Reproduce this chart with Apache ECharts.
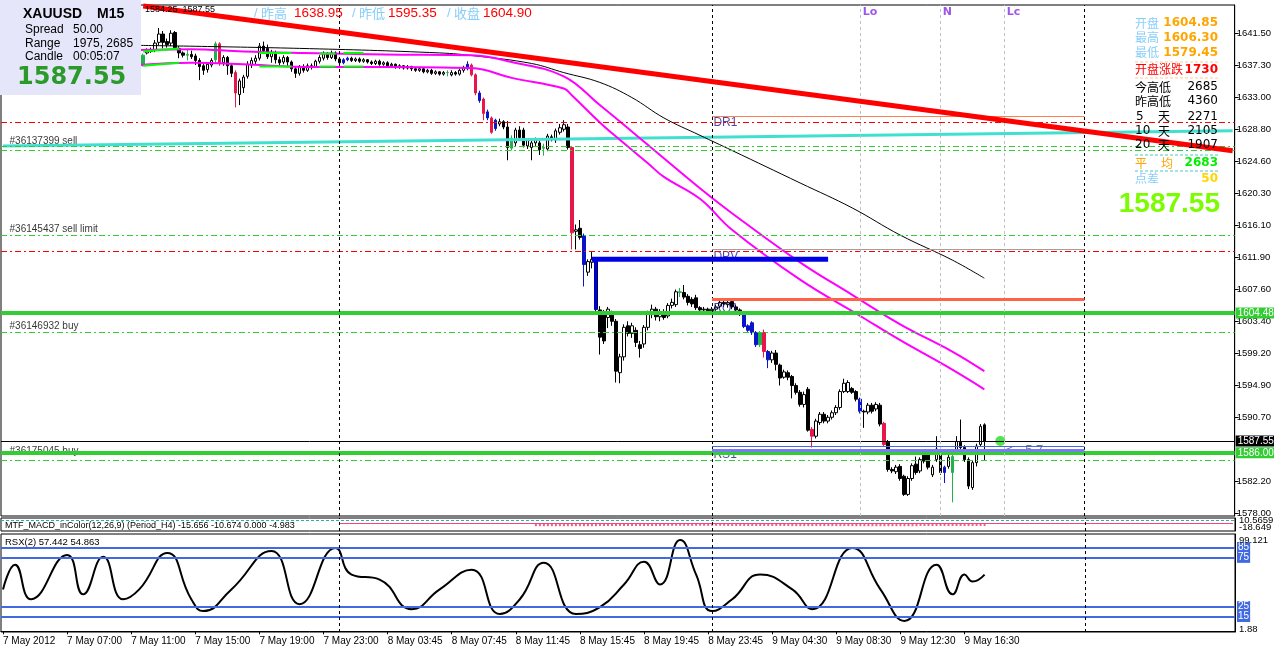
<!DOCTYPE html>
<html><head><meta charset="utf-8">
<script src="https://cdn.jsdelivr.net/npm/echarts@6/dist/echarts.min.js"></script>
<style>html,body{margin:0;padding:0;background:#fff}#c{width:1274px;height:650px}</style>
</head><body><div id="c"></div>
<script>
// ---------------- DATA ----------------
const timeLabels = ['7 May 2012','7 May 07:00','7 May 11:00','7 May 15:00','7 May 19:00','7 May 23:00',
  '8 May 03:45','8 May 07:45','8 May 11:45','8 May 15:45','8 May 19:45','8 May 23:45',
  '9 May 04:30','9 May 08:30','9 May 12:30','9 May 16:30'];
// [open, close, low, high] per M15 bar
const ohlc = [
[1637.8,1638.4,1637.5,1638.7],[1638.4,1638.0,1637.7,1638.6],[1638.0,1638.6,1637.8,1638.9],[1638.6,1639.1,1638.3,1639.4],
[1639.1,1638.7,1638.4,1639.3],[1638.7,1639.3,1638.5,1639.6],[1639.3,1639.8,1639.0,1640.2],[1639.8,1639.4,1639.1,1640.0],
[1639.4,1638.8,1638.5,1639.6],[1638.8,1638.3,1638.0,1639.0],[1638.3,1638.9,1638.1,1639.2],[1638.9,1639.6,1638.7,1639.9],
[1639.6,1640.2,1639.3,1640.5],[1640.2,1639.7,1639.4,1640.4],[1639.7,1639.1,1638.8,1639.9],[1639.1,1638.6,1638.2,1639.3],
[1638.6,1638.1,1637.8,1638.8],[1638.1,1638.5,1637.7,1638.7],[1638.5,1638.0,1637.6,1638.8],[1638.0,1637.5,1637.1,1638.2],
[1637.5,1637.9,1637.2,1638.1],[1637.9,1638.6,1637.7,1638.9],[1638.6,1639.2,1638.4,1639.5],[1639.2,1639.7,1638.9,1640.0],
[1639.7,1639.3,1639.0,1640.1],[1639.3,1638.8,1638.5,1639.5],[1638.8,1638.2,1637.9,1639.0],[1638.2,1637.7,1637.4,1638.4],
[1637.7,1637.2,1636.9,1637.9],[1637.2,1637.8,1636.9,1638.0],[1637.8,1637.4,1637.1,1638.0],[1637.4,1637.9,1637.2,1638.2],
[1637.9,1638.3,1637.6,1638.6],[1638.3,1637.9,1637.6,1638.6],[1637.9,1638.2,1637.6,1638.5],
[1637.3,1638.6,1637.1,1638.8],[1638.9,1639.2,1638.7,1639.5],[1639.1,1639.3,1638.9,1639.6],[1639.3,1640.2,1639.0,1640.6],
[1640.3,1641.4,1639.9,1642.2],[1641.4,1640.3,1639.5,1641.8],[1640.4,1640.0,1639.6,1640.8],[1640.2,1641.5,1639.8,1641.9],
[1641.6,1639.6,1639.4,1641.8],[1639.5,1638.9,1638.2,1639.8],[1638.9,1638.6,1638.3,1639.1],[1638.6,1638.7,1637.9,1639.3],
[1638.7,1638.4,1638.1,1639.2],[1638.5,1637.9,1637.3,1638.8],[1637.9,1637.1,1635.3,1638.2],[1637.2,1636.6,1636.0,1637.5],
[1636.7,1637.4,1636.3,1637.7],[1637.3,1637.9,1637.0,1638.2],[1638.0,1640.1,1637.6,1640.4],[1640.1,1637.5,1637.2,1640.3],
[1637.6,1638.3,1637.2,1638.6],[1638.3,1637.2,1636.0,1638.5],[1637.2,1636.2,1635.7,1637.5],[1636.3,1633.6,1631.7,1636.6],
[1633.4,1635.2,1632.0,1635.5],[1634.3,1635.7,1633.6,1636.0],[1635.8,1637.4,1635.5,1637.8],[1637.3,1637.9,1636.9,1638.3],
[1637.8,1638.2,1637.3,1638.6],[1638.2,1639.8,1637.9,1640.2],[1639.8,1639.2,1638.8,1640.4],[1639.5,1638.4,1638.1,1640.0],
[1638.4,1638.9,1637.6,1639.3],[1638.9,1638.0,1637.5,1639.2],[1638.0,1637.6,1637.2,1638.4],[1637.7,1638.3,1637.4,1638.6],
[1638.3,1637.7,1637.1,1638.5],[1637.7,1636.8,1636.4,1637.9],[1636.8,1636.2,1635.6,1637.1],[1636.2,1637.1,1635.9,1637.3],
[1637.1,1636.6,1636.3,1637.4],[1636.6,1637.2,1636.4,1637.5],[1637.2,1637.0,1636.7,1637.5],[1637.1,1637.8,1636.9,1638.0],
[1637.8,1638.3,1637.5,1638.6],[1638.2,1638.8,1637.9,1639.1],[1638.8,1638.3,1638.0,1639.0],[1638.3,1638.9,1638.1,1639.2],
[1638.9,1638.1,1637.8,1639.1],[1638.1,1637.6,1637.3,1638.3],[1637.6,1638.0,1637.4,1638.2],[1638.0,1638.2,1637.8,1638.4],
[1638.2,1637.9,1637.7,1638.4],[1637.9,1638.1,1637.7,1638.3],[1638.1,1637.8,1637.6,1638.3],[1637.8,1638.0,1637.6,1638.2],
[1638.0,1637.7,1637.5,1638.1],[1637.7,1637.5,1637.3,1637.9],[1637.5,1637.8,1637.3,1638.0],[1637.8,1637.4,1637.2,1638.0],
[1637.4,1637.6,1637.2,1637.8],[1637.6,1637.2,1637.0,1637.8],[1637.2,1637.4,1637.0,1637.6],[1637.4,1637.0,1636.8,1637.5],
[1637.0,1637.2,1636.8,1637.4],[1637.2,1636.9,1636.7,1637.3],[1636.9,1637.1,1636.7,1637.3],[1637.1,1636.8,1636.5,1637.2],
[1636.8,1636.6,1636.4,1637.0],[1636.6,1636.8,1636.4,1637.0],[1636.8,1636.4,1636.2,1636.9],[1636.4,1636.6,1636.2,1636.8],
[1636.6,1636.2,1636.0,1636.8],[1636.2,1636.4,1636.0,1636.6],[1636.4,1636.1,1635.9,1636.5],[1636.1,1636.3,1635.9,1636.5],
[1636.3,1636.3,1635.8,1636.6],[1636.0,1636.3,1635.8,1636.6],[1636.3,1636.1,1635.9,1636.5],[1636.1,1636.6,1635.9,1636.8],
[1636.6,1636.9,1636.3,1637.2],[1636.8,1637.4,1636.6,1637.8],[1637.3,1636.0,1635.8,1637.5],[1636.0,1633.6,1633.3,1636.2],
[1633.6,1632.6,1632.3,1633.9],[1632.8,1630.9,1630.0,1633.0],[1631.1,1630.3,1630.0,1631.4],[1630.3,1628.4,1628.2,1630.5],
[1630.0,1628.9,1628.6,1630.2],[1629.5,1629.8,1629.2,1630.2],[1629.8,1629.1,1628.8,1630.0],[1629.1,1626.4,1624.7,1629.9],
[1626.3,1627.6,1626.0,1628.0],[1627.0,1628.7,1626.6,1629.0],[1628.7,1627.7,1627.4,1629.2],[1628.7,1626.7,1626.4,1629.0],
[1626.6,1627.4,1626.2,1627.6],[1626.4,1627.0,1624.7,1627.3],[1627.0,1627.4,1626.6,1627.7],[1627.0,1626.1,1625.4,1627.3],
[1626.3,1626.4,1625.3,1626.9],[1626.2,1627.9,1625.9,1628.2],[1627.8,1627.5,1627.2,1628.1],[1627.4,1628.6,1627.0,1628.9],
[1628.4,1629.0,1628.1,1629.5],[1628.8,1629.4,1628.5,1630.0],[1629.1,1626.4,1626.1,1629.5],[1626.4,1615.1,1612.9,1626.6],
[1615.3,1615.5,1612.9,1616.2],[1615.7,1614.5,1614.2,1616.8],[1614.7,1610.9,1608.0,1615.0],[1609.9,1611.3,1609.4,1611.6],
[1611.2,1611.6,1610.4,1612.6],[1611.4,1605.0,1604.6,1611.8],[1604.9,1601.3,1599.0,1605.4],[1604.4,1600.8,1600.4,1604.9],
[1603.9,1605.0,1602.5,1605.3],[1604.3,1603.4,1602.8,1604.8],[1603.4,1596.8,1595.3,1603.7],[1596.6,1598.7,1595.2,1599.1],
[1598.7,1602.6,1598.2,1603.0],[1602.8,1601.8,1601.4,1603.4],[1601.8,1602.8,1601.2,1603.2],[1602.2,1600.6,1600.0,1602.6],
[1600.3,1599.8,1598.6,1600.8],[1600.4,1602.6,1599.9,1602.9],[1602.6,1604.5,1602.2,1604.8],[1604.3,1605.0,1603.8,1605.6],
[1605.0,1604.0,1603.5,1605.3],[1604.0,1604.6,1603.4,1605.0],[1604.6,1603.9,1603.6,1605.0],[1604.1,1605.5,1603.8,1605.8],
[1605.5,1605.9,1605.1,1606.4],[1605.6,1607.3,1605.3,1607.6],[1607.2,1607.3,1606.6,1607.8],[1607.2,1606.6,1606.3,1608.2],
[1606.7,1605.9,1605.5,1607.0],[1606.3,1605.7,1605.3,1606.6],[1606.5,1605.2,1604.9,1606.9],[1605.2,1604.9,1604.6,1605.4],
[1604.9,1605.0,1604.6,1605.3],[1605.0,1604.8,1604.5,1605.2],[1604.8,1605.0,1604.5,1605.3],[1605.0,1605.3,1604.8,1605.6],
[1605.4,1605.9,1605.1,1606.3],[1605.9,1605.7,1605.3,1606.2],[1605.6,1605.9,1605.2,1606.3],[1606.0,1605.3,1605.0,1606.3],
[1605.3,1604.9,1604.6,1605.6],[1604.9,1604.5,1604.1,1605.1],[1604.3,1602.7,1602.5,1604.5],[1602.8,1602.2,1602.0,1603.0],
[1603.2,1601.9,1601.6,1603.4],[1601.9,1600.3,1600.0,1602.1],[1600.3,1601.9,1600.0,1602.1],[1601.9,1599.4,1598.6,1602.3],
[1599.4,1598.3,1597.2,1599.6],[1598.3,1599.2,1597.9,1599.5],[1599.2,1597.7,1596.9,1599.6],[1597.6,1595.9,1594.9,1597.8],
[1596.0,1596.7,1595.8,1597.0],[1596.6,1596.0,1595.6,1596.9],[1596.1,1594.9,1593.2,1596.3],[1594.9,1594.0,1593.7,1595.2],
[1594.0,1592.4,1592.1,1594.3],[1592.4,1593.7,1592.0,1594.1],[1594.4,1589.0,1588.8,1594.7],[1589.1,1588.2,1586.7,1589.4],
[1588.2,1590.2,1587.9,1590.5],[1590.0,1591.1,1589.7,1591.4],[1591.1,1590.2,1589.9,1591.4],[1590.2,1590.7,1589.9,1591.0],
[1590.7,1591.3,1590.4,1591.6],[1591.3,1592.0,1591.0,1592.3],[1592.0,1594.1,1591.7,1594.4],[1594.1,1595.2,1593.9,1595.8],
[1594.1,1595.3,1593.9,1595.6],[1594.5,1594.0,1593.8,1594.7],[1594.1,1593.1,1592.8,1594.3],[1593.1,1591.5,1591.2,1593.3],
[1591.5,1591.4,1589.3,1591.7],[1591.4,1592.3,1591.1,1592.6],[1592.3,1591.5,1591.2,1592.6],[1591.8,1592.4,1591.5,1592.7],
[1592.3,1589.8,1589.5,1592.6],[1589.9,1587.1,1586.8,1590.1],[1587.4,1583.8,1583.5,1587.7],[1583.8,1583.6,1583.3,1584.1],
[1583.5,1584.1,1583.2,1584.4],[1584.2,1582.6,1582.3,1584.5],[1582.9,1580.5,1580.3,1583.1],[1580.5,1582.6,1580.3,1582.9],
[1582.6,1584.3,1582.3,1584.6],[1584.5,1583.4,1583.1,1585.5],[1583.6,1585.1,1583.3,1585.4],[1586.2,1584.9,1584.6,1586.5],
[1585.8,1584.1,1583.8,1586.1],[1583.1,1584.1,1582.8,1584.4],[1585.1,1586.5,1584.8,1588.2],[1586.1,1583.4,1583.1,1586.4],
[1584.1,1583.4,1582.0,1584.3],[1584.2,1585.4,1583.9,1585.7],[1583.4,1585.5,1579.45,1585.8],[1586.1,1587.5,1585.7,1588.2],
[1587.4,1586.7,1586.4,1590.4],[1586.7,1585.1,1584.8,1587.0],[1585.1,1581.6,1581.2,1585.4],[1581.4,1584.7,1581.1,1585.0],
[1584.7,1586.9,1584.2,1587.2],[1587.1,1589.5,1586.8,1589.8],[1589.7,1587.55,1585.0,1589.9]
];
const redBars = [54,58,117,118,120,122,142,190,202,220];
const blueBars = [85,86,116,119,121,123,145,185,186,187,188,191,214,235];
const greenBars = [35,46,53,111,127,135,169,189,237];

const mainTicks = [1578.00,1582.20,1590.70,1594.90,1599.20,1603.40,1607.60,1611.90,1616.10,1620.30,1624.60,1628.80,1633.00,1637.30,1641.50];
const upperEnv = [[34,1639.3],[47,1639.4],[60,1639.1],[75,1638.9],[95,1638.7],[117,1638.6],[127,1637.7],[140,1635.8],[149,1632.0],[162,1626.3],[174,1621.0],[182,1617.7],[199,1611.2],[212,1606.9],[224,1603.0],[237,1599.4],[245,1596.8]];
const lowerEnv = [[34,1637.3],[47,1637.6],[60,1637.4],[75,1637.05],[95,1637.05],[117,1636.9],[127,1635.6],[140,1634.2],[142,1633.3],[149,1629.7],[154,1627.4],[161,1624.3],[165,1622.5],[174,1619.6],[182,1615.5],[199,1608.9],[214,1604.1],[224,1600.9],[237,1597.0],[245,1594.4]];
const greenUpper = [[[35,1639.1],[44,1639.5]],[[64,1638.9],[72,1638.9]],[[79,1638.8],[83,1638.8]],[[85,1638.9],[90,1638.9]]];
const greenLower = [[[35,1637.2],[44,1637.6]],[[64,1637.1],[72,1637.1]],[[79,1637.1],[83,1637.1]],[[85,1637.1],[90,1637.1]]];
const slowMA = [[34,1639.9],[74,1639.5],[109,1638.9],[118,1638.5],[132,1637.5],[140,1636.3],[149,1635.0],[157,1633.0],[165,1630.3],[174,1628.0],[182,1626.0],[199,1621.7],[212,1618.4],[224,1614.8],[237,1611.5],[245,1609.1]];
const cyanLine = [[0,1626.6],[307,1628.6]];
const trendLine = [[35,1645.1],[307,1625.97]];
const blueHoriz = [[147,1611.6],[206,1611.6]];
const blueVert = [[148,1611.6],[148,1604.9]];
const redDashLevels = [1629.73,1612.66];
const greenDashLevels = [1626.50,1625.97,1614.78,1601.94,1585.05];
const greenSolidLevels = [1604.48,1586.00];
const bidPrice = 1587.55;
const pivotFrom = 177, pivotTo = 270;
const pivotLevels = {DR1:1630.56, DPV:1612.9, R1:1606.30, RS1a:1586.9, RS1b:1586.4};
const pivotText = [['DR1',1629.7],['DPV',1612.0],['RQ1',1605.1],['RS1',1585.7]];
const orderText = [['#36137399 sell',1627.2],['#36145437 sell limit',1615.55],['#36146932 buy',1602.7],['#36175045 buy',1586.2]];
const blackSeparators = [84,177,270];
const graySeparators = [[214,'Lo'],[234,'N'],[250,'Lc']];
const macdHistBlocks = [[133,148,-3.2],[149,164,-3.0],[165,180,-2.8],[181,196,-3.0],[197,212,-3.1],[213,228,-3.2],[229,245,-3.0]];
const rsxPoints = [[0,42.5],[3,67.5],[7,32.5],[16,77.5],[20,37.5],[25,75.5],[30,32.5],[34,42.5],[41,79.5],[47,32.5],[50,20.5],[57,42.5],[67,81.5],[74,27.5],[83,84.5],[87,57.5],[94,52.5],[102,22.5],[109,42.5],[117,62.5],[124,17.5],[129,32.5],[135,69.5],[143,17.5],[149,24.5],[155,47.5],[160,70.5],[164,47.5],[169,92.5],[173,57.5],[177,20.5],[182,32.5],[189,57.5],[197,42.5],[202,22.5],[212,84.5],[219,42.5],[225,10.5],[233,67.5],[237,37.5],[240,57.5],[242,50.5],[245,57.5]];
const rsxLevels = [85,75,25,15];

// ---------------- CHART ----------------
const N = 308;
const cats = Array.from({length:N}, (_, i) => String(i));
const labelIdx = (i) => i % 16 === 0 && i / 16 < timeLabels.length;
const colorOf = {};
redBars.forEach(i => colorOf[i] = '#e8174a');
blueBars.forEach(i => colorOf[i] = '#0a14c8');
greenBars.forEach(i => colorOf[i] = '#22b14c');
const candleData = ohlc.map((d, i) => colorOf[i] ? {value: d, itemStyle: {color: colorOf[i], color0: colorOf[i], borderColor: colorOf[i], borderColor0: colorOf[i], borderColorDoji: colorOf[i]}} : d);
const macdHist = [];
macdHistBlocks.forEach(b => { for (let i = b[0]; i <= b[1]; i++) macdHist.push([i, b[2]]); });

const dashDot = [6,3,2,3];
const hMark = [];
redDashLevels.forEach(v => hMark.push({yAxis: v, lineStyle: {color: '#ff0000', type: dashDot, width: 1}, label: {show: false}}));
greenDashLevels.forEach(v => hMark.push({yAxis: v, lineStyle: {color: '#32cd32', type: dashDot, width: 1}, label: {show: false}}));
const tag = (bg) => ({show: true, position: 'end', distance: 1, formatter: p => p.value.toFixed(2), color: '#fff', backgroundColor: bg, padding: [1, 4, 0, 2], fontFamily: 'Liberation Sans', fontSize: 10});
hMark.push({yAxis: bidPrice, lineStyle: {color: '#000', type: 'solid', width: 1}, label: tag('#000')});
greenSolidLevels.forEach(v => hMark.push({yAxis: v, lineStyle: {color: '#32cd32', type: 'solid', width: 4}, label: tag('#32cd32')}));

const seg = (p, color, w) => [{coord: [pivotFrom, p], lineStyle: {color, width: w, type: 'solid'}}, {coord: [pivotTo, p]}];
const vMark = [];
blackSeparators.forEach(i => vMark.push({xAxis: i, lineStyle: {color: '#000', type: [3, 3], width: 1}}));
graySeparators.forEach(s => vMark.push({xAxis: s[0], lineStyle: {color: '#c0c0c0', type: [3, 3], width: 1}}));

const txt = (x, y, text, fill, font, align) => ({type: 'text', x, y, z: 101, silent: true,
  style: {text, fill, font, textAlign: align || 'left', textVerticalAlign: 'middle', align: align || 'left', verticalAlign: 'middle'}});
const dline = (x1, x2, y, color) => ({type: 'line', z: 101, silent: true, shape: {x1, y1: y, x2, y2: y}, style: {stroke: color, lineWidth: 1, lineDash: [3, 2]}});

const CJK = '"Noto Sans CJK SC"';
const graphics = [
  {type: 'rect', z: 100, silent: true, shape: {x: 0, y: 0, width: 141, height: 95}, style: {fill: '#e6e6fa'}},
  txt(23, 14, 'XAUUSD', '#000', 'bold 14px "Liberation Sans"'),
  txt(97, 14, 'M15', '#000', 'bold 14px "Liberation Sans"'),
  txt(25, 30, 'Spread', '#000', '12px "Liberation Sans"'),
  txt(73, 30, '50.00', '#000', '12px "Liberation Sans"'),
  txt(25, 43.5, 'Range', '#000', '12px "Liberation Sans"'),
  txt(73, 43.5, '1975, 2685', '#000', '12px "Liberation Sans"'),
  txt(25, 57, 'Candle', '#000', '12px "Liberation Sans"'),
  txt(73, 57, '00:05:07', '#000', '12px "Liberation Sans"'),
  txt(17, 78, '1587.55', '#2b9a2b', 'bold 24px "DejaVu Sans"'),
  txt(145, 10, '1584.25  1587.55', '#000', '9px "Liberation Sans"'),
  txt(254, 13, '/', '#87cefa', '13px "Liberation Sans"'),
  txt(261, 13, '昨高', '#87cefa', '13px ' + CJK),
  txt(294, 13, '1638.95', '#ff0000', '13.5px "Liberation Sans"'),
  txt(352, 13, '/', '#87cefa', '13px "Liberation Sans"'),
  txt(359, 13, '昨低', '#87cefa', '13px ' + CJK),
  txt(388, 13, '1595.35', '#ff0000', '13.5px "Liberation Sans"'),
  txt(447, 13, '/', '#87cefa', '13px "Liberation Sans"'),
  txt(454, 13, '收盘', '#87cefa', '13px ' + CJK),
  txt(483, 13, '1604.90', '#ff0000', '13.5px "Liberation Sans"'),
  // right info panel
  txt(1135, 23, '开盘', '#87cefa', '12px ' + CJK),
  txt(1218, 23, '1604.85', '#ffa500', 'bold 12px "DejaVu Sans"', 'right'),
  txt(1135, 37.5, '最高', '#87cefa', '12px ' + CJK),
  txt(1218, 37.5, '1606.30', '#ffa500', 'bold 12px "DejaVu Sans"', 'right'),
  txt(1135, 52.5, '最低', '#87cefa', '12px ' + CJK),
  txt(1218, 52.5, '1579.45', '#ffa500', 'bold 12px "DejaVu Sans"', 'right'),
  dline(1135, 1218, 62, '#ffc896'),
  txt(1135, 69.5, '开盘涨跌', '#ff0000', '12px ' + CJK),
  txt(1218, 69.5, '1730', '#ff0000', 'bold 12px "DejaVu Sans"', 'right'),
  dline(1135, 1218, 78, '#ffc896'),
  txt(1135, 87, '今高低', '#000', '12px ' + CJK),
  txt(1218, 87, '2685', '#000', '12px "DejaVu Sans"', 'right'),
  txt(1135, 101, '昨高低', '#000', '12px ' + CJK),
  txt(1218, 101, '4360', '#000', '12px "DejaVu Sans"', 'right'),
  txt(1136, 116.5, '5', '#000', '12px "DejaVu Sans"'),
  txt(1158, 116.5, '天', '#000', '12px ' + CJK),
  txt(1218, 116.5, '2271', '#000', '12px "DejaVu Sans"', 'right'),
  txt(1135, 131, '10', '#000', '12px "DejaVu Sans"'),
  txt(1158, 131, '天', '#000', '12px ' + CJK),
  txt(1218, 131, '2105', '#000', '12px "DejaVu Sans"', 'right'),
  txt(1135, 145, '20', '#000', '12px "DejaVu Sans"'),
  txt(1158, 145, '天', '#000', '12px ' + CJK),
  txt(1218, 145, '1907', '#000', '12px "DejaVu Sans"', 'right'),
  dline(1135, 1218, 155, '#48c8c8'),
  txt(1135, 163, '平', '#ffa500', '12px ' + CJK),
  txt(1161, 163, '均', '#ffa500', '12px ' + CJK),
  txt(1218, 163, '2683', '#00ee00', 'bold 12px "DejaVu Sans"', 'right'),
  dline(1135, 1218, 171, '#48c8c8'),
  txt(1135, 178.5, '点差', '#87cefa', '12px ' + CJK),
  txt(1218, 178.5, '50', '#ffd700', 'bold 12px "DejaVu Sans"', 'right'),
  txt(1220, 204, '1587.55', '#7cfc00', 'bold 28px "Liberation Sans"', 'right'),
  // indicator window captions and scales
  txt(5, 526, 'MTF_MACD_inColor(12,26,9) (Period_H4) -15.656 -10.674 0.000 -4.983', '#000', '9px "Liberation Sans"'),
  txt(5, 542, 'RSX(2) 57.442 54.863', '#000', '9.5px "Liberation Sans"'),
  txt(1239, 520.5, '10.5659', '#000', '9.5px "Liberation Sans"'),
  txt(1239, 527, '-18.649', '#000', '9.5px "Liberation Sans"'),
  txt(1239, 540, '99.121', '#000', '9.5px "Liberation Sans"'),
  txt(1239, 629, '1.88', '#000', '9.5px "Liberation Sans"')
];

const option = {
  animation: false,
  backgroundColor: '#fff',
  textStyle: {fontFamily: 'Liberation Sans'},
  grid: [
    {left: 1, right: 39, top: 5, height: 511, show: true, borderColor: '#000', borderWidth: 1},
    {left: 1, right: 39, top: 518, height: 13, show: true, borderColor: '#000', borderWidth: 1},
    {left: 1, right: 39, top: 534, height: 98, show: true, borderColor: '#000', borderWidth: 1}
  ],
  xAxis: [0, 1, 2].map(g => ({
    type: 'category', gridIndex: g, data: cats, boundaryGap: true,
    axisLine: {show: g === 2, lineStyle: {color: '#000'}},
    axisTick: {show: g === 2, interval: labelIdx, alignWithLabel: true, length: 3, lineStyle: {color: '#000'}},
    axisLabel: {show: g === 2, interval: labelIdx, align: 'left', margin: 4, color: '#000', fontFamily: 'Liberation Sans', fontSize: 10,
      formatter: (v, i) => labelIdx(i) ? timeLabels[i / 16] : ''},
    splitLine: {show: false}
  })),
  yAxis: [
    {type: 'value', gridIndex: 0, position: 'right', min: 1577.64, max: 1645.24, scale: true,
      axisLine: {show: true, lineStyle: {color: '#000'}},
      axisTick: {show: true, length: 4, customValues: mainTicks, lineStyle: {color: '#000'}},
      axisLabel: {show: true, customValues: mainTicks, formatter: v => v.toFixed(2), margin: 2, color: '#000', fontFamily: 'Liberation Sans', fontSize: 9.5},
      splitLine: {show: false}},
    {type: 'value', gridIndex: 1, position: 'right', min: -8, max: 5, axisLine: {show: true, lineStyle: {color: '#000'}}, axisTick: {show: false}, axisLabel: {show: false}, splitLine: {show: false}},
    {type: 'value', gridIndex: 2, position: 'right', min: -0.7, max: 98.7, axisLine: {show: true, lineStyle: {color: '#000'}}, axisTick: {show: false}, axisLabel: {show: false}, splitLine: {show: false}}
  ],
  series: [
    {type: 'line', name: 'levels', xAxisIndex: 0, yAxisIndex: 0, data: [], silent: true,
      markLine: {silent: true, symbol: ['none', 'none'], animation: false, data: hMark.concat(vMark).concat([
        seg(pivotLevels.DR1, '#ff7f50', 1), seg(pivotLevels.DPV, '#a0a0a0', 1), seg(pivotLevels.R1, '#ff6347', 3),
        seg(pivotLevels.RS1a, '#4169e1', 1), seg(pivotLevels.RS1b, '#7b7bf0', 3)
      ]), label: {show: false}}},
    {type: 'line', xAxisIndex: 0, yAxisIndex: 0, data: cyanLine, symbol: 'none', lineStyle: {color: '#40e0d0', width: 3}, silent: true},
    {type: 'line', xAxisIndex: 0, yAxisIndex: 0, data: slowMA, symbol: 'none', smooth: 0.4, lineStyle: {color: '#000', width: 1}, silent: true},
    {type: 'line', xAxisIndex: 0, yAxisIndex: 0, data: upperEnv, symbol: 'none', smooth: 0.4, lineStyle: {color: '#ff00ff', width: 2}, silent: true},
    {type: 'line', xAxisIndex: 0, yAxisIndex: 0, data: lowerEnv, symbol: 'none', smooth: 0.4, lineStyle: {color: '#ff00ff', width: 2}, silent: true},
    ...greenUpper.concat(greenLower).map(s => ({type: 'line', xAxisIndex: 0, yAxisIndex: 0, data: s, symbol: 'none', lineStyle: {color: '#00ff00', width: 2}, silent: true})),
    {type: 'candlestick', xAxisIndex: 0, yAxisIndex: 0, barWidth: 3, data: candleData, silent: true,
      itemStyle: {color: '#fff', color0: '#000', borderColor: '#000', borderColor0: '#000', borderColorDoji: '#000', borderWidth: 1}},
    {type: 'line', xAxisIndex: 0, yAxisIndex: 0, data: blueHoriz, symbol: 'none', lineStyle: {color: '#0000e6', width: 5}, silent: true},
    {type: 'line', xAxisIndex: 0, yAxisIndex: 0, data: blueVert, symbol: 'none', lineStyle: {color: '#0000e6', width: 3}, silent: true},
    {type: 'line', xAxisIndex: 0, yAxisIndex: 0, data: trendLine, symbol: 'none', lineStyle: {color: '#ff0000', width: 5}, silent: true, z: 5},
    {type: 'scatter', xAxisIndex: 0, yAxisIndex: 0, symbolSize: 10, data: [[249, bidPrice]], itemStyle: {color: '#22dd22'}, silent: true,
      label: {show: true, position: 'right', distance: 0, offset: [0, 9], formatter: '<-- 5.7', color: '#555', fontFamily: 'Liberation Sans', fontSize: 13}},
    {type: 'scatter', xAxisIndex: 0, yAxisIndex: 0, symbolSize: 1, itemStyle: {color: 'rgba(0,0,0,0)'}, silent: true,
      data: pivotText.map(t => ({name: t[0], value: [pivotFrom, t[1]]})),
      label: {show: true, position: 'right', distance: 1, formatter: '{b}', color: '#1c1c8c', fontFamily: 'Liberation Sans', fontSize: 12}},
    {type: 'scatter', xAxisIndex: 0, yAxisIndex: 0, symbolSize: 1, itemStyle: {color: 'rgba(0,0,0,0)'}, silent: true,
      data: orderText.map(t => ({name: t[0], value: [1, t[1]]})),
      label: {show: true, position: 'right', distance: 2, formatter: '{b}', color: '#000', fontFamily: 'Liberation Sans', fontSize: 10}},
    {type: 'scatter', xAxisIndex: 0, yAxisIndex: 0, symbolSize: 1, itemStyle: {color: 'rgba(0,0,0,0)'}, silent: true,
      data: graySeparators.map(s => ({name: s[1], value: [s[0], 1644.3]})),
      label: {show: true, position: 'right', distance: 2, formatter: '{b}', color: '#8a2be2', fontWeight: 'bold', fontFamily: 'DejaVu Sans', fontSize: 11}},
    // MACD window
    {type: 'bar', xAxisIndex: 1, yAxisIndex: 1, data: macdHist, barWidth: 2, itemStyle: {color: '#f06080'}, silent: true},
    {type: 'line', xAxisIndex: 1, yAxisIndex: 1, data: [], silent: true,
      markLine: {silent: true, symbol: ['none', 'none'], label: {show: false}, data: [
        {yAxis: 2.5, lineStyle: {color: '#20b2aa', type: [3, 2], width: 1}},
        [{coord: [84, 0], lineStyle: {color: '#ff4080', type: 'solid', width: 1}}, {coord: [307, 0]}]
      ].concat(blackSeparators.map(i => ({xAxis: i, lineStyle: {color: '#000', type: [3, 3], width: 1}})))}},
    // RSX window
    {type: 'line', xAxisIndex: 2, yAxisIndex: 2, data: rsxPoints, symbol: 'none', smooth: 0.5, lineStyle: {color: '#000', width: 2}, silent: true,
      markLine: {silent: true, symbol: ['none', 'none'], data: rsxLevels.map(v => ({yAxis: v, lineStyle: {color: '#4169e1', type: 'solid', width: 2},
        label: {show: true, position: 'end', distance: 2, formatter: String(v), color: '#fff', backgroundColor: '#4169e1', padding: [1, 1, 0, 1], fontFamily: 'Liberation Sans', fontSize: 10}}))
        .concat(blackSeparators.map(i => ({xAxis: i, lineStyle: {color: '#000', type: [3, 3], width: 1}, label: {show: false}})))}}
  ],
  graphic: graphics
};
const chart = echarts.init(document.getElementById('c'));
chart.setOption(option);
</script></body></html>
